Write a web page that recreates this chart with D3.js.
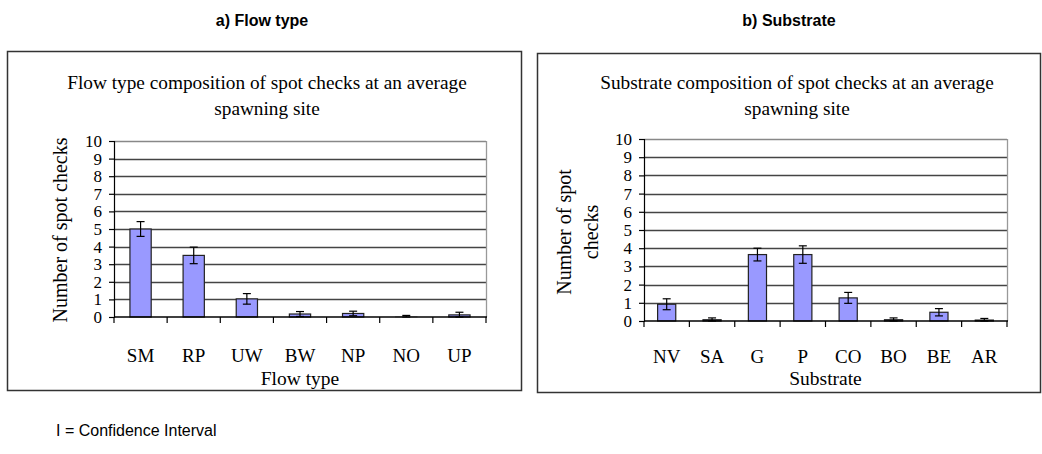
<!DOCTYPE html>
<html>
<head>
<meta charset="utf-8">
<script src="https://cdn.jsdelivr.net/npm/d3@7"></script>
<style>
  body { margin: 0; background: #fff; }
  svg { display: block; }
</style>
</head>
<body>
<svg id="chart" width="1042" height="454"></svg>
<script>
// data
const flowTypes = ['SM', 'RP', 'UW', 'BW', 'NP', 'NO', 'UP']
const flowMeans = [5.0, 3.5, 1.03, 0.17, 0.2, 0.02, 0.12]
const flowCI = [0.42, 0.47, 0.3, 0.14, 0.13, 0.07, 0.15]

const substrates = ['NV', 'SA', 'G', 'P', 'CO', 'BO', 'BE', 'AR']
const subMeans = [0.92, 0.07, 3.65, 3.65, 1.27, 0.07, 0.48, 0.05]
const subCI = [0.3, 0.1, 0.35, 0.48, 0.3, 0.1, 0.2, 0.09]

const yTicks = [0, 1, 2, 3, 4, 5, 6, 7, 8, 9, 10]

const serif = '"Liberation Serif", "Times New Roman", serif'
const sans = '"Liberation Sans", Arial, sans-serif'
const barColor = '#9999ff'

const svg = d3.select('#chart')

function drawPanel(p) {
    // outer frame
    svg.append('rect')
        .attr('x', p.box[0] + 0.5).attr('y', p.box[1] + 0.5)
        .attr('width', p.box[2]).attr('height', p.box[3])
        .attr('fill', 'none').attr('stroke', '#333').attr('stroke-width', 1.5)

    svg.append('text')
        .attr('x', p.headX).attr('y', 26)
        .attr('text-anchor', 'middle')
        .attr('font-family', sans).attr('font-weight', 'bold').attr('font-size', '16px')
        .text(p.heading)

    p.title.forEach((t, i) => {
        svg.append('text')
            .attr('x', p.titleX).attr('y', p.titleY + i * 26)
            .attr('text-anchor', 'middle')
            .attr('font-family', serif).attr('font-size', '19.3px')
            .text(t)
    })

    const x = d3.scaleBand()
        .domain(p.cats)
        .range([p.left, p.right])

    const y = d3.scaleLinear()
        .domain([0, 10])
        .range([p.bottom, p.top])

    const g = svg.append('g')

    // gridlines
    g.selectAll('.grid')
        .data(yTicks.slice(1))
        .enter().append('line')
        .attr('x1', p.left).attr('x2', p.right)
        .attr('y1', d => Math.round(y(d)) + 0.5).attr('y2', d => Math.round(y(d)) + 0.5)
        .attr('stroke', d => d == 10 ? '#888' : '#444')
        .attr('stroke-width', 1.3)

    // right border of plot area
    g.append('line')
        .attr('x1', p.right + 0.5).attr('x2', p.right + 0.5)
        .attr('y1', y(10)).attr('y2', y(0))
        .attr('stroke', '#999').attr('stroke-width', 1.3)

    // bars
    const bw = x.step() / 2.5
    g.selectAll('.bar')
        .data(p.means)
        .enter().append('rect')
        .attr('x', (d, i) => x(p.cats[i]) + (x.step() - bw) / 2)
        .attr('y', d => y(d))
        .attr('width', bw)
        .attr('height', d => y(0) - y(d))
        .attr('fill', barColor)
        .attr('stroke', d => d < 0.05 ? '#bbb' : '#222')
        .attr('stroke-width', 1.2)

    // error bars
    const eb = g.selectAll('.err')
        .data(p.means)
        .enter().append('g')
        .attr('transform', (d, i) => 'translate(' + (x(p.cats[i]) + x.step() / 2) + ',0)')
    eb.append('line')
        .attr('y1', (d, i) => y(d + p.ci[i])).attr('y2', (d, i) => y(Math.max(0, d - p.ci[i])))
        .attr('stroke', '#000').attr('stroke-width', 1.2)
    eb.append('line')
        .attr('x1', -4).attr('x2', 4)
        .attr('y1', (d, i) => y(d + p.ci[i])).attr('y2', (d, i) => y(d + p.ci[i]))
        .attr('stroke', '#000').attr('stroke-width', 1.2)
    eb.append('line')
        .attr('x1', -4).attr('x2', 4)
        .attr('y1', (d, i) => y(Math.max(0, d - p.ci[i]))).attr('y2', (d, i) => y(Math.max(0, d - p.ci[i])))
        .attr('stroke', '#000').attr('stroke-width', 1.2)

    // y axis
    const yAxis = g.append('g')
        .attr('transform', 'translate(' + p.left + ',0)')
        .call(d3.axisLeft(y).tickValues(yTicks).tickSize(5).tickPadding(7))
    yAxis.selectAll('text')
        .attr('font-family', serif).attr('font-size', '17px').attr('fill', '#000')
    yAxis.selectAll('line, path').attr('stroke', '#000').attr('stroke-width', 1.2)

    // x axis: labels centred in bands, ticks on band edges
    const xAxis = g.append('g')
        .attr('transform', 'translate(0,' + y(0) + ')')
        .call(d3.axisBottom(x).tickSize(0).tickPadding(0))
    xAxis.select('.domain').remove()
    xAxis.selectAll('text')
        .attr('y', p.labelOff).attr('dy', '0.35em')
        .attr('font-family', serif).attr('font-size', '19px').attr('fill', '#000')

    g.append('line')
        .attr('x1', p.left).attr('x2', p.right + 1)
        .attr('y1', y(0)).attr('y2', y(0))
        .attr('stroke', '#000').attr('stroke-width', 1.3)
    g.selectAll('.xtick')
        .data(d3.range(p.cats.length + 1))
        .enter().append('line')
        .attr('x1', i => p.left + i * x.step()).attr('x2', i => p.left + i * x.step())
        .attr('y1', y(0)).attr('y2', y(0) + 6)
        .attr('stroke', '#000').attr('stroke-width', 1.2)

    // axis titles
    svg.append('text')
        .attr('x', (p.left + p.right) / 2).attr('y', p.xTitleY)
        .attr('text-anchor', 'middle')
        .attr('font-family', serif).attr('font-size', '19.5px')
        .text(p.xTitle)

    p.yTitle.forEach((t, i) => {
        svg.append('text')
            .attr('transform', 'translate(' + (p.yTitleX + i * 27) + ',' + p.yTitleY + ') rotate(-90)')
            .attr('text-anchor', 'middle')
            .attr('font-family', serif).attr('font-size', '20px')
            .text(t)
    })
}

drawPanel({
    box: [7, 51, 514, 339],
    heading: 'a) Flow type', headX: 262,
    title: ['Flow type composition of spot checks at an average', 'spawning site'],
    titleX: 267, titleY: 89,
    cats: flowTypes, means: flowMeans, ci: flowCI,
    left: 114, right: 486, top: 141, bottom: 317,
    labelOff: 38,
    xTitle: 'Flow type', xTitleY: 385,
    yTitle: ['Number of spot checks'], yTitleX: 67, yTitleY: 230
})

drawPanel({
    box: [537, 53, 503, 339],
    heading: 'b) Substrate', headX: 789,
    title: ['Substrate composition of spot checks at an average', 'spawning site'],
    titleX: 797, titleY: 89,
    cats: substrates, means: subMeans, ci: subCI,
    left: 644, right: 1007, top: 139, bottom: 321,
    labelOff: 35,
    xTitle: 'Substrate', xTitleY: 385,
    yTitle: ['Number of spot', 'checks'], yTitleX: 571, yTitleY: 232
})

svg.append('text')
    .attr('x', 56).attr('y', 436)
    .attr('font-family', sans).attr('font-size', '16px')
    .text('I = Confidence Interval')
</script>
</body>
</html>
